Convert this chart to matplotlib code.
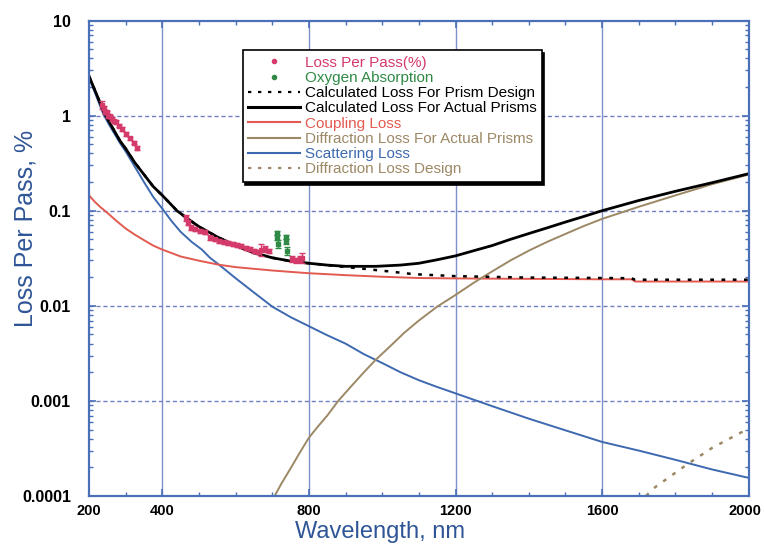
import matplotlib.pyplot as plt
from matplotlib.lines import Line2D
from matplotlib.ticker import FixedLocator, MultipleLocator, NullFormatter
from matplotlib.transforms import ScaledTranslation

# curves (wavelength nm, loss %)
scat_nm = [200, 210, 220, 230, 240, 255, 270, 285, 300, 325, 350, 375, 400, 425, 450, 480,
           508, 530, 555, 600, 650, 700, 750, 800, 850, 900, 950, 1000, 1050, 1100, 1150,
           1200, 1300, 1400, 1500, 1600, 1700, 1800, 1900, 2000]
scat_val = [2.5, 2.0, 1.6, 1.27, 1.02, 0.8, 0.64, 0.51, 0.42, 0.29, 0.2, 0.14, 0.105, 0.078,
            0.06, 0.047, 0.039, 0.032, 0.027, 0.0195, 0.0138, 0.0098, 0.0076, 0.0061, 0.0049,
            0.004, 0.0031, 0.0025, 0.002, 0.00165, 0.0014, 0.0012, 0.00088, 0.00065, 0.00049,
            0.00037, 0.0003, 0.00024, 0.00019, 0.000155]

coup_nm = [200, 215, 230, 250, 275, 300, 325, 350, 375, 400, 450, 500, 555, 600, 700, 800,
           900, 1000, 1100, 1200, 1400, 1600, 1680, 1690, 2000]
coup_val = [0.145, 0.125, 0.11, 0.095, 0.078, 0.065, 0.056, 0.049, 0.043, 0.039, 0.033,
            0.0298, 0.027, 0.0255, 0.0235, 0.022, 0.021, 0.0202, 0.0196, 0.0194, 0.0192,
            0.019, 0.019, 0.018, 0.018]

total_nm = [200, 220, 240, 255, 270, 285, 300, 325, 350, 375, 400, 440, 470, 500, 550, 600,
            650, 700, 750, 800, 850, 900, 983, 1050, 1100, 1150, 1200, 1250, 1300, 1350, 1403,
            1450, 1500, 1550, 1600, 1700, 1800, 1900, 2000]
total_val = [2.6, 1.7, 1.1, 0.86, 0.68, 0.54, 0.45, 0.32, 0.24, 0.18, 0.145, 0.1, 0.082,
             0.068, 0.053, 0.043, 0.036, 0.032, 0.0295, 0.028, 0.0268, 0.026, 0.026, 0.0268,
             0.028, 0.0305, 0.0335, 0.038, 0.043, 0.05, 0.058, 0.066, 0.076, 0.087, 0.1,
             0.128, 0.16, 0.197, 0.245]

design_nm = [200, 220, 240, 255, 270, 285, 300, 325, 350, 375, 400, 440, 470, 500, 550, 600,
             650, 700, 750, 800, 850, 880, 927, 1018, 1086, 1200, 1400, 1600, 1680, 1690, 2000]
design_val = [2.6, 1.7, 1.1, 0.86, 0.68, 0.54, 0.45, 0.32, 0.24, 0.18, 0.145, 0.1, 0.082,
              0.068, 0.053, 0.043, 0.036, 0.032, 0.0295, 0.028, 0.0268, 0.026, 0.025, 0.023,
              0.0215, 0.0205, 0.0198, 0.0196, 0.0195, 0.0188, 0.0188]

diff_nm = [700, 725, 750, 775, 800, 825, 850, 880, 910, 950, 982, 1020, 1060, 1100, 1150,
           1200, 1250, 1300, 1350, 1400, 1450, 1500, 1550, 1600, 1700, 1800, 1900, 2000]
diff_val = [0.00009, 0.000135, 0.000195, 0.000285, 0.00041, 0.00054, 0.0007, 0.001, 0.00135,
            0.002, 0.0027, 0.0037, 0.0052, 0.007, 0.0098, 0.013, 0.0175, 0.023, 0.03, 0.038,
            0.047, 0.057, 0.069, 0.082, 0.11, 0.145, 0.19, 0.24]

diffd_nm = [1720, 1740, 1832, 1900, 1990]
diffd_val = [0.0001, 0.00012, 0.000215, 0.00032, 0.00049]

# measured points
lpp_nm = [236, 240, 244, 248, 252, 257, 262, 268, 274, 281, 290, 300, 312, 322, 331,
          466, 470, 478, 490, 503, 516, 530, 544, 556, 568, 580, 592, 603, 615, 627, 639,
          650, 660, 670, 680, 690, 755, 765, 775, 782]
lpp_val = [1.3, 1.2, 1.1, 1.08, 1.0, 0.98, 0.92, 0.87, 0.85, 0.78, 0.72, 0.64, 0.58, 0.52, 0.46,
           0.084, 0.075, 0.066, 0.064, 0.061, 0.06, 0.052, 0.05, 0.048, 0.047, 0.046, 0.045,
           0.044, 0.043, 0.041, 0.04, 0.038, 0.037, 0.039, 0.04, 0.038, 0.031, 0.03, 0.031, 0.032]
lpp_err = [0.12, 0.06, 0.05, 0.05, 0.05, 0.04, 0.04, 0.04, 0.04, 0.03, 0.03, 0.03, 0.02, 0.02, 0.02,
           0.006, 0.004, 0.004, 0.003, 0.003, 0.003, 0.003, 0.002, 0.002, 0.002, 0.002, 0.002,
           0.002, 0.002, 0.002, 0.002, 0.002, 0.002, 0.006, 0.003, 0.002, 0.002, 0.002, 0.002, 0.004]

oxy_nm = [713, 713, 716, 738, 738, 741]
oxy_val = [0.058, 0.052, 0.045, 0.053, 0.048, 0.038]
oxy_err = [0.003, 0.003, 0.004, 0.003, 0.003, 0.004]

c_pink = '#d43a6a'
c_green = '#2f8a45'
c_red = '#e25a50'
c_tan = '#9c8865'
c_blue = '#3d69b0'
c_frame = '#4a70b8'
c_label = '#2f5597'

plt.rcParams['font.family'] = ['Liberation Sans', 'DejaVu Sans']

fig = plt.figure(figsize=(7.64, 5.49), dpi=100)
ax = fig.add_axes([0.1165, 0.0966, 0.8635, 0.866])

ax.plot(scat_nm, scat_val, color=c_blue, lw=1.4)
ax.plot(coup_nm, coup_val, color=c_red, lw=1.4)
ax.plot(diff_nm, diff_val, color=c_tan, lw=1.4)
ax.plot(diffd_nm, diffd_val, color=c_tan, lw=1.8, ls=(0, (1.5, 3)))
ax.plot(design_nm, design_val, color='black', lw=1.8, ls=(0, (1.5, 3)))
ax.plot(total_nm, total_val, color='black', lw=2.0)

ax.errorbar(lpp_nm, lpp_val, yerr=lpp_err, fmt='s', ms=2.5, color=c_pink, ecolor=c_pink,
            elinewidth=1, capsize=2)
ax.errorbar(oxy_nm, oxy_val, yerr=oxy_err, fmt='s', ms=2.5, color=c_green, ecolor=c_green,
            elinewidth=1, capsize=2)

ax.set_yscale('log')
ax.set_xlim(200, 2000)
ax.set_ylim(0.0001, 10)

ax.xaxis.set_major_locator(FixedLocator([200, 400, 800, 1200, 1600, 2000]))
ax.xaxis.set_minor_locator(MultipleLocator(100))
ax.set_xticklabels(['200', '400', '800', '1200', '1600', '2000'])
ax.set_yticks([0.0001, 0.001, 0.01, 0.1, 1, 10])
ax.set_yticklabels(['0.0001', '0.001', '0.01', '0.1', '1', '10'])
ax.yaxis.set_minor_formatter(NullFormatter())

ax.tick_params(which='both', direction='in', top=True, right=True, color=c_frame)
ax.tick_params(which='major', length=5, width=1.2)
ax.tick_params(which='minor', length=3, width=1)
ax.tick_params(axis='x', labelsize=10.5, pad=6)
ax.tick_params(axis='y', labelsize=11.5, pad=13)
for lab in ax.get_xticklabels() + ax.get_yticklabels():
    lab.set_fontweight('bold')
last = ax.get_xticklabels()[-1]
last.set_transform(last.get_transform() + ScaledTranslation(-3 / 72, 0, fig.dpi_scale_trans))

for x in [400, 800, 1200, 1600]:
    ax.axvline(x, color='#7f8fc8', lw=1.0, zorder=0)
for y in [0.001, 0.01, 0.1, 1]:
    ax.axhline(y, color='#7080c0', lw=1.0, ls=(0, (3, 2)), zorder=0)

for s in ax.spines.values():
    s.set_color(c_frame)
    s.set_linewidth(1.6)

fig.text(0.497, 0.031, 'Wavelength, nm', fontsize=17, color=c_label, ha='center', va='center')
fig.text(0.033, 0.583, 'Loss Per Pass, %', fontsize=18, color=c_label, ha='center',
         va='center', rotation=90)

handles = [
    Line2D([], [], ls='none', marker='o', ms=3, color=c_pink),
    Line2D([], [], ls='none', marker='o', ms=3, color=c_green),
    Line2D([], [], color='black', lw=1.6, ls=(0, (1.5, 3))),
    Line2D([], [], color='black', lw=2.2),
    Line2D([], [], color=c_red, lw=1.5),
    Line2D([], [], color=c_tan, lw=1.5),
    Line2D([], [], color=c_blue, lw=1.5),
    Line2D([], [], color=c_tan, lw=1.6, ls=(0, (1.5, 3))),
]
labels = ['Loss Per Pass(%)', 'Oxygen Absorption', 'Calculated Loss For Prism Design',
          'Calculated Loss For Actual Prisms', 'Coupling Loss', 'Diffraction Loss For Actual Prisms',
          'Scattering Loss', 'Diffraction Loss Design']
leg = ax.legend(handles, labels, loc='upper left', bbox_to_anchor=(0.233, 0.937),
                borderaxespad=0, fontsize=11, labelspacing=0.08, handlelength=3.4,
                handletextpad=0.3, borderpad=0.35, fancybox=False, framealpha=1,
                edgecolor='black', shadow={'color': 'black', 'alpha': 1},
                labelcolor=[c_pink, c_green, 'black', 'black', c_red, c_tan, c_blue, c_tan])
leg.get_frame().set_linewidth(1.2)

fig.savefig('out.png', dpi=100)
